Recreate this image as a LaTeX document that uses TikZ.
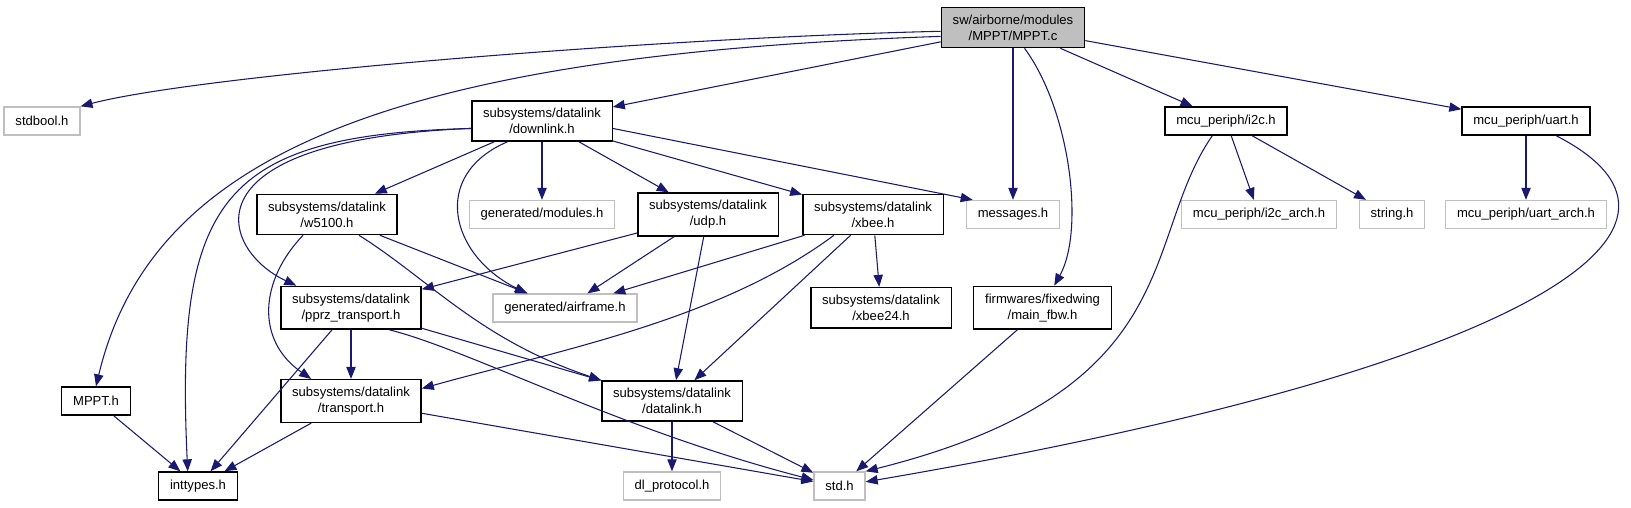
\documentclass[tikz,border=0pt]{standalone}
\usepackage{fontspec}
\setmainfont{Liberation Sans}
\usetikzlibrary{arrows.meta}
\definecolor{edgeblue}{RGB}{25,25,112}
\definecolor{boxgray}{RGB}{191,191,191}

\begin{document}
\begin{tikzpicture}[
    x=0.75pt, y=-0.75pt,
    myfile/.style={rectangle, draw=black, line width=1pt, fill=white, minimum height=21pt, inner xsep=8.5pt, inner ysep=5.5pt, font=\fontsize{9.8}{12}\selectfont, align=center},
    mysys/.style={myfile, draw=boxgray},
    myroot/.style={myfile, fill=boxgray},
    myarrow/.style={-{Triangle[length=9pt,width=7pt]}, draw=edgeblue, line width=0.8pt},
]
\useasboundingbox (0,0) rectangle (1631,507);

\node[myroot] (root) at (1013,27.5) {sw/airborne/modules\\/MPPT/MPPT.c};

\node[mysys]  (stdbool)  at (42,121)    {stdbool.h};
\node[myfile] (downlink) at (542,121)   {subsystems/datalink\\/downlink.h};
\node[myfile] (i2c)      at (1226,121)  {mcu\_periph/i2c.h};
\node[myfile] (uart)     at (1526,121)  {mcu\_periph/uart.h};

\node[myfile] (w5100)    at (327,214.5)  {subsystems/datalink\\/w5100.h};
\node[mysys]  (modules)  at (542,214.5)  {generated/modules.h};
\node[myfile] (udp)      at (708,214.5)  {subsystems/datalink\\/udp.h};
\node[myfile] (xbee)     at (873,214.5)  {subsystems/datalink\\/xbee.h};
\node[mysys]  (messages) at (1013,214.5) {messages.h};
\node[mysys]  (i2carch)  at (1259,214.5) {mcu\_periph/i2c\_arch.h};
\node[mysys]  (string)   at (1392,214.5) {string.h};
\node[mysys]  (uartarch) at (1526,214.5) {mcu\_periph/uart\_arch.h};

\node[myfile] (pprz)     at (351,307.7)  {subsystems/datalink\\/pprz\_transport.h};
\node[mysys]  (airframe) at (565,308)    {generated/airframe.h};
\node[myfile] (xbee24)   at (881,307.7)  {subsystems/datalink\\/xbee24.h};
\node[myfile] (mainfbw)  at (1042.5,307.7) {firmwares/fixedwing\\/main\_fbw.h};

\node[myfile] (mppth)     at (96,401)  {MPPT.h};
\node[myfile] (transport) at (351,401) {subsystems/datalink\\/transport.h};
\node[myfile] (datalink)  at (672,401) {subsystems/datalink\\/datalink.h};

\node[myfile] (inttypes) at (198,486)   {inttypes.h};
\node[mysys]  (dlproto)  at (672,486)   {dl\_protocol.h};
\node[mysys]  (stdh)     at (839.5,486) {std.h};

% MPPT.c
\draw[myarrow] (root.183) .. controls (650,38) and (200,75) .. (stdbool.north east);
\draw[myarrow] (root.187) .. controls (380,55) and (150,160) .. (mppth.north);
\draw[myarrow] (root) -- (downlink);
\draw[myarrow] (root) -- (messages);
\draw[myarrow] (root.-61) .. controls (1070,110) and (1085,230) .. (mainfbw.62);
\draw[myarrow] (root) -- (i2c);
\draw[myarrow] (root) -- (uart);

% downlink.h
\draw[myarrow] (downlink.186) .. controls (220,135) and (175,200) .. (inttypes.125);
\draw[myarrow] (downlink.186) .. controls (180,140) and (220,250) .. (pprz.158);
\draw[myarrow] (downlink) -- (w5100);
\draw[myarrow] (downlink.-149) .. controls (430,175) and (450,255) .. (airframe.159);
\draw[myarrow] (downlink) -- (modules);
\draw[myarrow] (downlink) -- (udp);
\draw[myarrow] (downlink) -- (xbee);
\draw[myarrow] (downlink.-6) -- (messages.160);

% w5100.h, udp.h, xbee.h
\draw[myarrow] (w5100.-139) .. controls (260,280) and (255,340) .. (transport.151);
\draw[myarrow] (w5100.-33) .. controls (430,280) and (480,340) .. (datalink.north west);
\draw[myarrow] (w5100) -- (airframe);
\draw[myarrow] (udp) -- (pprz);
\draw[myarrow] (udp) -- (airframe);
\draw[myarrow] (udp) -- (datalink);
\draw[myarrow] (xbee) -- (airframe);
\draw[myarrow] (xbee.-152) .. controls (720,320) and (560,350) .. (transport.10);
\draw[myarrow] (xbee) -- (datalink);
\draw[myarrow] (xbee) -- (xbee24);

% pprz_transport.h, transport.h, datalink.h
\draw[myarrow] (pprz) -- (transport);
\draw[myarrow] (pprz) -- (inttypes);
\draw[myarrow] (pprz) -- (datalink);
\draw[myarrow] (pprz.-30) .. controls (470,350) and (620,430) .. (stdh.167);
\draw[myarrow] (transport) -- (inttypes);
\draw[myarrow] (transport) -- (stdh);
\draw[myarrow] (datalink) -- (dlproto);
\draw[myarrow] (datalink) -- (stdh);
\draw[myarrow] (mppth) -- (inttypes);
\draw[myarrow] (mainfbw) -- (stdh);

% mcu_periph
\draw[myarrow] (i2c.-133) .. controls (1140,240) and (1190,390) .. (stdh.north east);
\draw[myarrow] (i2c) -- (i2carch);
\draw[myarrow] (i2c) -- (string);
\draw[myarrow] (uart) -- (uartarch);
\draw[myarrow] (uart.-26) .. controls (1740,230) and (1520,370) .. (stdh.9);
\end{tikzpicture}
\end{document}
